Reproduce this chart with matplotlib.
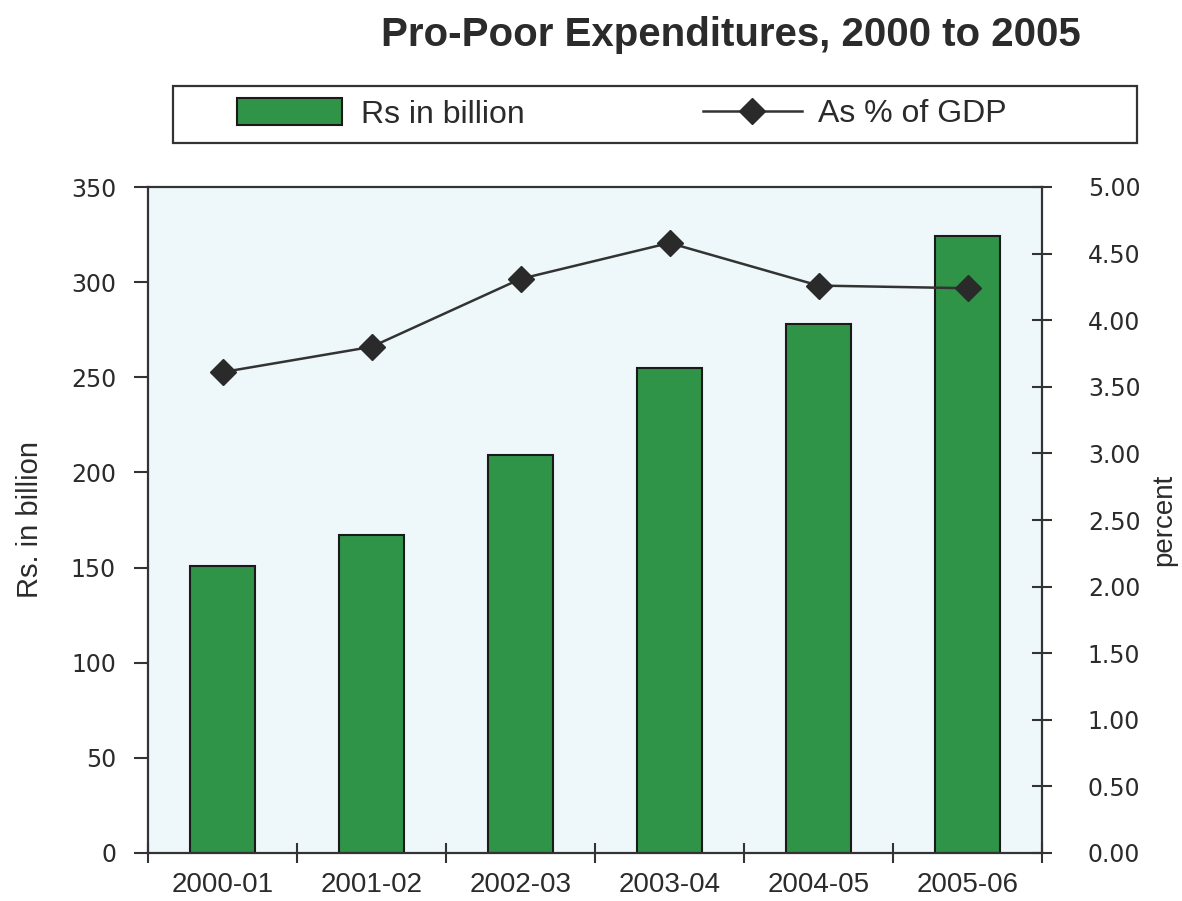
import matplotlib
matplotlib.use("Agg")
import matplotlib.pyplot as plt
from matplotlib.patches import Patch, Rectangle
from matplotlib.lines import Line2D
import numpy as np

categories = ["2000-01", "2001-02", "2002-03", "2003-04", "2004-05", "2005-06"]
rs_billion = [151, 167, 209, 255, 278, 324]
pct_gdp = [3.61, 3.80, 4.31, 4.58, 4.26, 4.24]
left_ticks = [0, 50, 100, 150, 200, 250, 300, 350]
right_ticks = [0.0, 0.5, 1.0, 1.5, 2.0, 2.5, 3.0, 3.5, 4.0, 4.5, 5.0]

plt.rcParams['font.family'] = ['Liberation Sans', 'DejaVu Sans']
txt = '#2b2b2b'
green = '#2f9448'

fig = plt.figure(figsize=(11.82, 9.01), dpi=100)
fig.patch.set_facecolor('white')
ax = fig.add_axes([148/1182, 48/901, (1042-148)/1182, (853-187)/901])
ax.set_facecolor('#eef8fa')
x = np.arange(len(categories))
ax.bar(x, rs_billion, width=0.44, color=green, edgecolor='#1a1a1a', linewidth=1.5, zorder=2)
ax.set_xlim(-0.5, len(categories) - 0.5)
ax.set_ylim(0, 350)
ax.set_yticks(left_ticks)
ax.set_yticklabels([str(v) for v in left_ticks], fontsize=17, color=txt, family='DejaVu Sans')
ax.set_xticks(x)
ax.set_xticklabels(categories, fontsize=20, color=txt)
ax.set_xticks(np.arange(-0.5, len(categories)), minor=True)
ax.tick_params(axis='x', which='major', length=0, pad=14)
ax.tick_params(axis='x', which='minor', length=14, width=1.5, direction='inout', color='#333333')
ax.tick_params(axis='y', length=10, width=1.5, direction='out', color='#333333', pad=13)
for s in ['top', 'right']:
    ax.spines[s].set_visible(False)
for s in ['left', 'bottom']:
    ax.spines[s].set_linewidth(1.6)
    ax.spines[s].set_color('#333333')
ax.plot([-0.5, 5.5], [350, 350], color='#333333', lw=1.6, clip_on=False, zorder=3)
ax.set_ylabel("Rs. in billion", fontsize=21, color=txt, labelpad=19)

ax2 = ax.twinx()
ax2.plot(x, pct_gdp, color='#333333', lw=1.8, marker='D', markersize=13,
         markerfacecolor='#2a2a2a', markeredgecolor='#2a2a2a', zorder=4)
ax2.set_ylim(0, 5.0)
ax2.set_yticks(right_ticks)
ax2.set_yticklabels([f"{v:.2f}" for v in right_ticks], fontsize=17, color=txt, family='DejaVu Sans')
ax2.tick_params(axis='y', length=14, width=1.5, direction='inout', color='#333333', pad=26)
for s in ['top', 'left', 'bottom']:
    ax2.spines[s].set_visible(False)
ax2.spines['right'].set_linewidth(1.6)
ax2.spines['right'].set_color('#333333')
ax2.set_ylabel("percent", fontsize=20, color=txt, labelpad=8)

fig.text(0.618, 0.961, "Pro-Poor Expenditures, 2000 to 2005", ha='center', va='center',
         fontsize=29, fontweight='bold', color=txt)

# legend box
fig.patches.append(Rectangle((173/1182, (901-143)/901), (1137-173)/1182, 57/901,
                             transform=fig.transFigure, facecolor='white',
                             edgecolor='#333333', linewidth=1.6))
h1 = Patch(facecolor=green, edgecolor='#1a1a1a', linewidth=1.5)
leg1 = fig.legend([h1], ["Rs in billion"], loc='center left',
                  bbox_to_anchor=(208/1182, (901-114)/901), frameon=False,
                  fontsize=23, handlelength=3.3, handleheight=0.9, handletextpad=0.6,
                  labelcolor=txt)
h2 = Line2D([0], [0], color='#333333', lw=1.8, marker='D', markersize=13,
            markerfacecolor='#2a2a2a', markeredgecolor='#2a2a2a')
leg2 = fig.legend([h2], ["As % of GDP"], loc='center left',
                  bbox_to_anchor=(674/1182, (901-114)/901), frameon=False,
                  fontsize=23, handlelength=3.1, handletextpad=0.5, labelcolor=txt)

fig.savefig("out.png", dpi=100, facecolor='white')
